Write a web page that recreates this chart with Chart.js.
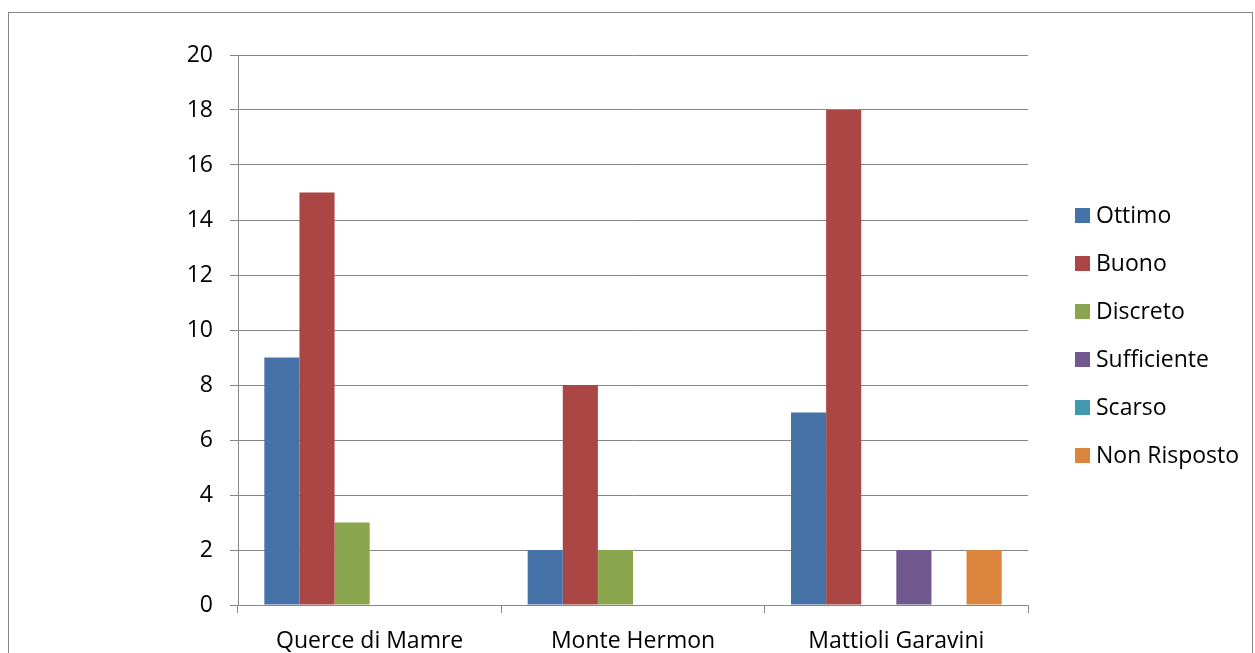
<!DOCTYPE html>
<html>
<head>
<meta charset="utf-8">
<script src="https://cdn.jsdelivr.net/npm/chart.js@4/dist/chart.umd.min.js"></script>
<style>
html,body{margin:0;padding:0;background:#fff;}
#wrap{position:relative;width:1255px;height:653px;}
</style>
</head>
<body>
<div id="wrap"><canvas id="c"></canvas></div>
<script>
const categories = ["Querce di Mamre", "Monte Hermon", "Mattioli Garavini"];
const seriesNames = ["Ottimo", "Buono", "Discreto", "Sufficiente", "Scarso", "Non Risposto"];
const ottimo = [9, 2, 7];
const buono = [15, 8, 18];
const discreto = [3, 2, 0];
const sufficiente = [0, 0, 2];
const scarso = [0, 0, 0];
const nonRisposto = [0, 0, 2];
const yTicks = [0, 2, 4, 6, 8, 10, 12, 14, 16, 18, 20];

const colors = ["#4572A7", "#AA4643", "#89A54E", "#71588F", "#4198AF", "#DB843D"];
const seriesValues = [ottimo, buono, discreto, sufficiente, scarso, nonRisposto];
const FONT = "'Open Sans', 'Liberation Sans', sans-serif";
const FSIZE = 23;
const GRID = "#868686";

const frame = {
  id: 'frame',
  beforeDraw(chart) {
    const ctx = chart.ctx;
    ctx.save();
    ctx.fillStyle = '#fff';
    ctx.fillRect(0, 0, chart.width, chart.height);
    ctx.strokeStyle = GRID;
    ctx.lineWidth = 1;
    ctx.strokeRect(8.5, 12.5, 1244, 700);
    ctx.restore();
  }
};

const legendPlugin = {
  id: 'customLegend',
  afterDraw(chart) {
    const ctx = chart.ctx;
    ctx.save();
    ctx.font = FSIZE + "px " + FONT;
    ctx.textBaseline = 'middle';
    ctx.textAlign = 'left';
    chart.data.datasets.forEach((ds, i) => {
      const cy = 215 + i * 48;
      ctx.fillStyle = ds.backgroundColor;
      ctx.fillRect(1075, cy - 7, 15, 15);
      ctx.fillStyle = '#000';
      ctx.fillText(ds.label, 1096, cy + 1);
    });
    ctx.restore();
  }
};

new Chart(document.getElementById('c'), {
  type: 'bar',
  data: {
    labels: categories,
    datasets: seriesNames.map((n, i) => ({
      label: n,
      data: seriesValues[i],
      backgroundColor: colors[i],
      borderWidth: 0,
      categoryPercentage: 0.8,
      barPercentage: 1.0
    }))
  },
  options: {
    responsive: true,
    maintainAspectRatio: false,
    animation: false,
    events: [],
    layout: { padding: { left: 0, right: 227, top: 55, bottom: 0 } },
    plugins: { legend: { display: false }, tooltip: { enabled: false } },
    scales: {
      x: {
        grid: { display: true, drawOnChartArea: false, drawTicks: true, tickLength: 8, color: GRID, offset: true },
        border: { display: true, color: GRID, width: 1 },
        ticks: { color: '#000', font: { family: FONT, size: FSIZE }, padding: 15, maxRotation: 0, autoSkip: false },
        afterFit(s) { s.height = 48; }
      },
      y: {
        min: 0, max: 20,
        afterBuildTicks(s) { s.ticks = yTicks.map(v => ({ value: v })); },
        grid: { color: GRID, tickLength: 8, drawTicks: true },
        border: { display: true, color: GRID, width: 1 },
        ticks: { color: '#000', font: { family: FONT, size: FSIZE }, padding: 17 },
        afterFit(s) { s.width = 238; }
      }
    }
  },
  plugins: [frame, legendPlugin]
});
</script>
</body>
</html>
